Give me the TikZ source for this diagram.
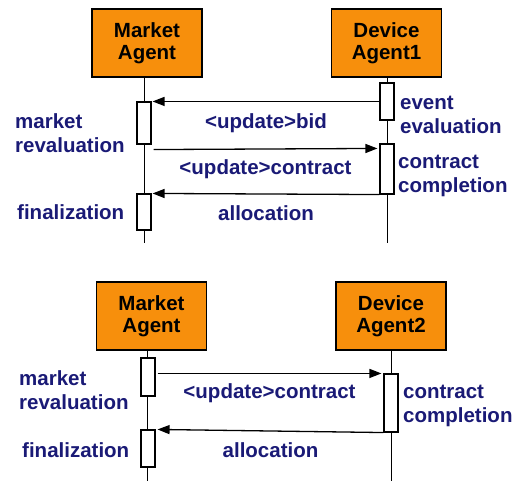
\documentclass[tikz,border=0pt]{standalone}
\usepackage{fontspec}
\setmainfont{Liberation Sans}
\usetikzlibrary{arrows.meta}
\definecolor{agentorange}{RGB}{247,143,12}
\definecolor{msgblue}{RGB}{26,26,118}
\tikzset{
  agent/.style={draw,line width=1.2pt,fill=agentorange,minimum width=110pt,minimum height=68pt,
    align=center,inner sep=0pt,font=\fontsize{20.5}{22}\selectfont\bfseries},
  act/.style={draw,line width=1.1pt,fill=white,minimum width=14pt,inner sep=0pt},
  lifeline/.style={line width=0.9pt},
  msg/.style={-{Triangle[length=12pt,width=9pt]},line width=1.3pt},
  lbl/.style={inner sep=0pt,text=msgblue,align=left,font=\fontsize{20.5}{24}\selectfont\bfseries},
}

\begin{document}
\begin{tikzpicture}[x=1pt,y=-1pt]
  \useasboundingbox (0,0) rectangle (520,481);

  % first exchange: market agent and device agent 1
  \node[agent] (mkt1) at (147,43) {Market\\Agent};
  \node[agent] (dev1) at (386.5,43) {Device\\Agent1};
  \coordinate (mend1) at (144,243);
  \coordinate (dend1) at (387,243);
  \draw[lifeline] (mkt1.south -| mend1) -- (mend1);
  \draw[lifeline] (dev1.south -| dend1) -- (dend1);

  \node[act,minimum height=42pt] (mact1) at (144,123) {};
  \node[act,minimum height=36pt] (mact2) at (144,212) {};
  \node[act,minimum height=37pt] (dact1) at (387,101.5) {};
  \node[act,minimum height=50pt] (dact2) at (387,169) {};

  \draw[msg] (dact1.west |- mact1.north) -- ([xshift=1pt]mact1.north east)
    node[midway,yshift=-22pt,lbl] {<update>bid};
  \draw[msg] ([shift={(2pt,-5pt)}]mact1.south east) -- ([shift={(-2pt,-5pt)}]dact2.north west)
    node[midway,yshift=-20pt,lbl] {<update>contract};
  \draw[msg] (dact2.south west) -- ([xshift=1pt]mact2.north east)
    node[midway,yshift=-19pt,lbl] {allocation};

  \node[lbl,anchor=west] (mrev1) at (15,133) {market\\revaluation};
  \node[lbl,anchor=west] (fin1) at (17,212) {finalization};
  \node[lbl,anchor=west] (eval1) at (400,115) {event\\evaluation};
  \node[lbl,anchor=west] (comp1) at (398,176) {contract\\completion};

  % second exchange: market agent and device agent 2
  \node[agent] (mkt2) at (151.5,316) {Market\\Agent};
  \node[agent] (dev2) at (391,316) {Device\\Agent2};
  \coordinate (mend2) at (147,481);
  \coordinate (dend2) at (391,481);
  \draw[lifeline] (mkt2.south -| mend2) -- (mend2);
  \draw[lifeline] (dev2.south -| dend2) -- (dend2);

  \node[act,minimum height=38pt] (mact3) at (148,377) {};
  \node[act,minimum height=37pt] (mact4) at (148,448.5) {};
  \node[act,minimum height=58pt] (dact3) at (391,403) {};

  \draw[msg] ([xshift=2pt]mact3.east |- dact3.north) -- ([xshift=-2pt]dact3.north west)
    node[midway,yshift=-20pt,lbl] {<update>contract};
  \draw[msg] (dact3.south west) -- ([xshift=2pt]mact4.north east)
    node[midway,yshift=-19pt,lbl] {allocation};

  \node[lbl,anchor=west] (mrev2) at (19,390) {market\\revaluation};
  \node[lbl,anchor=west] (fin2) at (22,450) {finalization};
  \node[lbl,anchor=west] (comp2) at (403,406) {contract\\completion};
\end{tikzpicture}
\end{document}
